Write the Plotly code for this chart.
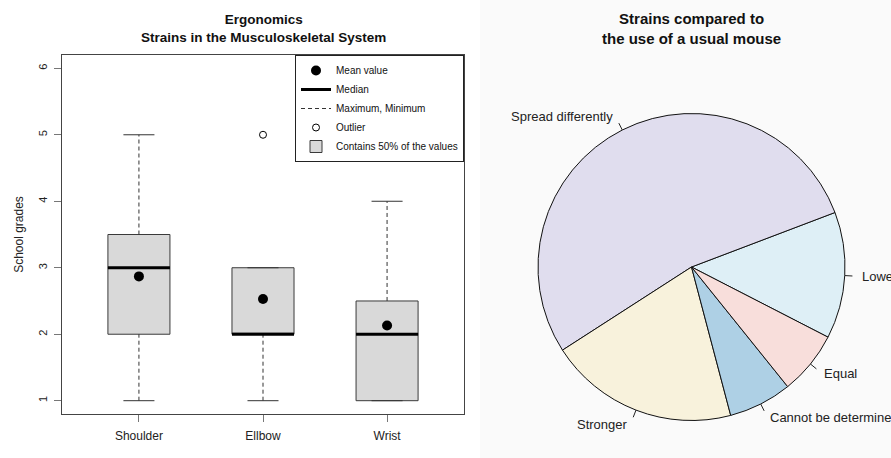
import math
import plotly.graph_objects as go

# ---------------- data ----------------
body_parts = ["Shoulder", "Ellbow", "Wrist"]
positions = [1, 2, 3]
q1 = [2.0, 2.0, 1.0]
medians = [3.0, 2.0, 2.0]
q3 = [3.5, 3.0, 2.5]
whisker_low = [1.0, 1.0, 1.0]
whisker_high = [5.0, 3.0, 4.0]
means = [2.87, 2.53, 2.13]
outlier_x = [2, 3]
outlier_y = [5.0, 5.0]

pie_labels = ["Lower", "Spread differently", "Stronger", "Cannot be determined", "Equal"]
pie_values = [2, 8, 3, 1, 1]
pie_colors = ["#DEEFF6", "#E0DDEE", "#F8F2DC", "#AED0E5", "#F8DEDB"]

FONT = "Liberation Sans, Arial, Helvetica, sans-serif"
W, H = 891, 458
BOX_W = 0.5
STAPLE_HALF = 0.125
PIE_ROTATION = 69.2
PIE_X = [538, 845]
PIE_Y = [113, 421]

fig = go.Figure()

# box body (no whiskers of its own)
fig.add_trace(go.Box(
    x=positions, q1=q1, median=medians, q3=q3,
    lowerfence=q1, upperfence=q3,
    width=BOX_W, fillcolor="#D9D9D9",
    line=dict(color="#3a3a3a", width=1),
    name="Contains 50% of the values", legendrank=5,
    whiskerwidth=0, hoverinfo="skip",
))

# dashed whiskers
wx, wy = [], []
for p, a, b, c, d in zip(positions, whisker_low, q1, q3, whisker_high):
    wx += [p, p, None, p, p, None]
    wy += [a, b, None, c, d, None]
fig.add_trace(go.Scatter(
    x=wx, y=wy, mode="lines",
    line=dict(color="#333333", width=1, dash="4px,3px"),
    name="Maximum, Minimum", legendrank=3,
))

# staples
sx, sy = [], []
for p, a, d in zip(positions, whisker_low, whisker_high):
    sx += [p - STAPLE_HALF, p + STAPLE_HALF, None, p - STAPLE_HALF, p + STAPLE_HALF, None]
    sy += [a, a, None, d, d, None]
fig.add_trace(go.Scatter(
    x=sx, y=sy, mode="lines", line=dict(color="#333333", width=1),
    showlegend=False, hoverinfo="skip",
))

# medians (thick)
mx, my = [], []
for p, m in zip(positions, medians):
    mx += [p - BOX_W / 2, p + BOX_W / 2, None]
    my += [m, m, None]
fig.add_trace(go.Scatter(
    x=mx, y=my, mode="lines", line=dict(color="black", width=3),
    name="Median", legendrank=2,
))

# means
fig.add_trace(go.Scatter(
    x=positions, y=means, mode="markers",
    marker=dict(symbol="circle", size=10, color="black"),
    name="Mean value", legendrank=1,
))

# outliers
fig.add_trace(go.Scatter(
    x=outlier_x, y=outlier_y, mode="markers",
    marker=dict(symbol="circle-open", size=7, color="black", line=dict(width=1)),
    name="Outlier", legendrank=4,
))

# pie
fig.add_trace(go.Pie(
    labels=pie_labels, values=pie_values, sort=False,
    direction="counterclockwise", rotation=PIE_ROTATION,
    marker=dict(colors=pie_colors, line=dict(color="#111111", width=1)),
    textinfo="none",
    domain=dict(x=[PIE_X[0] / W, PIE_X[1] / W], y=[1 - PIE_Y[1] / H, 1 - PIE_Y[0] / H]),
    automargin=False, showlegend=False, hoverinfo="label+value",
))

# R-style slice labels and ticks at each slice's mid-angle (derived from the values)
cx = (PIE_X[0] + PIE_X[1]) / 2
cy = (PIE_Y[0] + PIE_Y[1]) / 2
r = min(PIE_X[1] - PIE_X[0], PIE_Y[1] - PIE_Y[0]) / 2
total = sum(pie_values)
start = 90 - PIE_ROTATION - 360 * pie_values[0] / total
shapes = [dict(
    type="rect", xref="paper", yref="paper",
    x0=480 / W, x1=1, y0=0, y1=1,
    fillcolor="#FAFAFA", line=dict(width=0), layer="below",
)]
annotations = [
    dict(text="<b>Ergonomics<br>Strains in the Musculoskeletal System</b>",
         xref="paper", yref="paper", x=263 / W, y=1 - 28 / H,
         xanchor="center", yanchor="middle", showarrow=False,
         font=dict(size=13.5, family=FONT, color="#111111")),
    dict(text="<b>Strains compared to<br>the use of a usual mouse</b>",
         xref="paper", yref="paper", x=691 / W, y=1 - 29 / H,
         xanchor="center", yanchor="middle", showarrow=False,
         font=dict(size=15, family=FONT, color="#111111")),
]
cum = 0
for lab, v in zip(pie_labels, pie_values):
    mid = math.radians(start + 360 * (cum + v / 2) / total)
    cum += v
    c, s = math.cos(mid), math.sin(mid)
    shapes.append(dict(
        type="line", xref="paper", yref="paper",
        x0=(cx + r * c) / W, y0=1 - (cy - r * s) / H,
        x1=(cx + 1.05 * r * c) / W, y1=1 - (cy - 1.05 * r * s) / H,
        line=dict(color="#222222", width=1),
    ))
    annotations.append(dict(
        text=lab, xref="paper", yref="paper",
        x=(cx + 1.1 * r * c) / W, y=1 - (cy - 1.1 * r * s) / H,
        xanchor="left" if c > 0 else "right", yanchor="middle",
        showarrow=False, font=dict(size=13, family=FONT, color="#222222"),
    ))

fig.update_layout(
    width=W, height=H,
    margin=dict(l=0, r=0, t=0, b=0),
    paper_bgcolor="white", plot_bgcolor="white",
    font=dict(family=FONT, size=11, color="#222222"),
    showlegend=True,
    legend=dict(
        x=464 / W, xanchor="right", y=1 - 55 / H, yanchor="top",
        bgcolor="white", bordercolor="#222222", borderwidth=1,
        font=dict(size=10, family=FONT, color="#111111"),
        tracegroupgap=0, itemwidth=30,
    ),
    xaxis=dict(
        domain=[62 / W, 464 / W], range=[0.38, 3.62],
        tickvals=positions, ticktext=body_parts,
        showline=True, mirror=True, linecolor="#444444", linewidth=1,
        ticks="outside", ticklen=7, tickcolor="#777777",
        ticklabelstandoff=4,
        showgrid=False, zeroline=False,
        tickfont=dict(size=12, color="#222222"),
    ),
    yaxis=dict(
        domain=[1 - 414 / H, 1 - 55 / H], range=[0.8, 6.2],
        tickvals=[1, 2, 3, 4, 5, 6],
        showline=True, mirror=True, linecolor="#444444", linewidth=1,
        ticks="outside", ticklen=7, tickcolor="#777777",
        tickangle=-90, ticklabelstandoff=3,
        showgrid=False, zeroline=False,
        tickfont=dict(size=11, color="#222222"),
        title=dict(text="School grades", font=dict(size=12, color="#222222"), standoff=10),
    ),
    shapes=shapes,
    annotations=annotations,
)

fig.write_html(
    "out.html",
    config={"displayModeBar": False},
    post_script="document.body.style.margin='0';document.body.style.overflow='hidden';",
)
